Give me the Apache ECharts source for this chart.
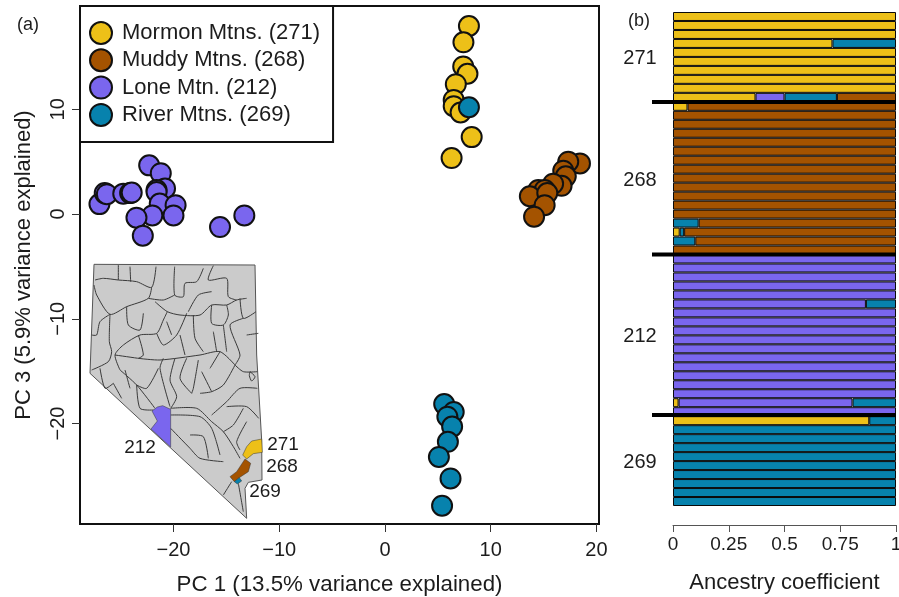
<!DOCTYPE html>
<html><head><meta charset="utf-8">
<style>html,body{margin:0;padding:0;background:#fff}#c{width:899px;height:597px}</style>
<script src="https://cdn.jsdelivr.net/npm/echarts@6/dist/echarts.min.js"></script>
</head><body><div id="c"></div>
<script>
// ---- data: PCA scores [PC1, PC3]
const mormon = [[7.94,17.96],[7.42,16.4],[7.4,14.1],[7.8,13.4],[6.7,12.4],[6.5,10.9],[6.5,10.3],[7.15,9.7],[8.2,7.35],[6.3,5.35]];
const muddy = [[18.44,4.84],[17.33,5.0],[16.86,4.14],[17.1,3.6],[16.7,2.7],[15.9,2.9],[14.5,2.3],[15.1,2.3],[13.7,1.7],[15.35,2.0],[15.1,0.85],[14.1,-0.25]];
const lone = [[-22.3,4.65],[-21.2,3.9],[-20.8,2.45],[-21.6,2.3],[-21.6,2.1],[-21.3,1.0],[-19.8,0.85],[-20,-0.13],[-22,-0.13],[-23.5,-0.35],[-22.9,-2.07],[-15.6,-1.24],[-13.3,-0.13],[-27,0.95],[-26.5,2],[-26.3,1.9],[-24.75,1.95],[-24.1,2],[-23.95,2.05]];
const river = [[7.94,10.2],[5.6,-18.15],[6.5,-18.9],[5.9,-19.35],[6.35,-20.3],[5.95,-21.75],[5.1,-23.2],[6.2,-25.25],[5.4,-27.85]];
const seriesNames = ['Mormon Mtns. (271)','Muddy Mtns. (268)','Lone Mtn. (212)','River Mtns. (269)'];
const pcTicksX = [-20,-10,0,10,20];
const pcTicksY = [-20,-10,0,10];
const ancestryTicks = [0,0.25,0.5,0.75,1];
// ---- ancestry rows, top to bottom
const ancYellow = [1,1,1,.715,1,1,1,1,1,.37, .065,0,0,0,0,0,0,0,0,0,0,0,0,0,.03,0,0, 0,0,0,0,0,0,0,0,0,0,0,0,0,0,0,0,.025,0, .88,0,0,0,0,0,0,0,0,0];
const ancPurple = [0,0,0,0,0,0,0,0,0,.13, 0,0,0,0,0,0,0,0,0,0,0,0,0,0,0,0,0, 1,1,1,1,1,.865,1,1,1,1,1,1,1,1,1,1,.78,1, 0,0,0,0,0,0,0,0,0,0];
const ancBlue   = [0,0,0,.285,0,0,0,0,0,.235, 0,0,0,0,0,0,0,0,0,0,0,0,0,.115,.02,.1,0, 0,0,0,0,0,.135,0,0,0,0,0,0,0,0,0,0,.195,0, .12,1,1,1,1,1,1,1,1,1];
const ancBrown  = [0,0,0,0,0,0,0,0,0,.265, .935,1,1,1,1,1,1,1,1,1,1,1,1,.885,.95,.9,1, 0,0,0,0,0,0,0,0,0,0,0,0,0,0,0,0,0,0, 0,0,0,0,0,0,0,0,0,0];
const groupLabels = ['271','268','212','269'];
const mapLabels = ['212','271','268','269'];

const C = {y:'#EDC018', br:'#A45300', p:'#7A66EE', b:'#0782AD', ink:'#1c1c1c'};
const FONT = '"Liberation Sans", Arial, sans-serif';

// ---- inset map geometry (traced in a 3x crop of the inset)
const mapOutline = [[42,28],[525,30],[530,300],[545,555],[546,675],[505,682],[495,700],[500,790],[30,355]];
const mapLines = [
 [[45,75],[70,70],[115,75],[170,80],[215,97],[228,35]],[[115,30],[115,75]],[[150,35],[152,80]],
 [[284,35],[284,120],[310,125],[315,85],[350,80],[370,40]],[[400,32],[385,75],[440,70],[445,125],[470,135]],
 [[215,97],[205,130],[140,155],[90,178],[50,120],[42,90]],[[90,178],[88,260],[95,290],[85,320],[35,345]],
 [[90,178],[60,200],[50,240],[35,240]],[[140,155],[145,210],[180,225],[190,175]],[[205,130],[250,135],[284,120]],
 [[225,140],[262,170],[300,180],[360,180],[395,150],[440,150],[470,135],[500,130]],[[325,170],[355,120],[395,110]],
 [[395,150],[395,205],[430,210],[445,180],[440,150]],[[480,130],[490,190],[528,170]],
 [[262,170],[250,195],[230,235],[180,240],[130,270],[105,300],[120,345]],[[230,235],[250,270],[290,240],[320,175]],
 [[490,190],[450,210],[480,300],[465,330]],[[465,330],[490,350],[532,350]],
 [[250,310],[240,340],[270,455]],[[285,310],[270,375],[290,425],[272,460]],[[320,310],[300,370],[335,415]],
 [[355,315],[340,400],[335,415]],[[175,310],[240,315],[360,300],[420,290],[465,330]],
 [[465,330],[430,390],[395,410],[360,415]],[[120,345],[170,390],[225,460]],[[100,385],[125,430]],
 [[170,390],[180,460],[220,465]],[[272,460],[350,460],[395,500],[430,530],[460,575],[480,610]],
 [[272,480],[360,485],[395,520],[420,600]],[[272,520],[330,580],[360,610],[430,620]],
 [[330,540],[370,545],[385,610]],[[440,455],[500,455],[536,490]],[[395,480],[440,440],[480,400],[532,400]],
 [[430,530],[460,510],[490,460]],[[480,585],[470,560],[500,500]],[[510,350],[525,365],[515,378],[508,362],[510,350]],
 [[455,680],[430,720]],[[475,685],[490,770]],[[400,230],[410,290]],[[500,240],[535,235]],[[260,200],[275,240]],
 [[175,240],[190,300],[175,310]],[[300,240],[315,300]],[[340,180],[345,250],[370,290]],[[430,210],[440,290]],[[105,300],[175,310]],
 [[60,340],[75,400],[100,385]],[[135,345],[150,400]],[[235,340],[200,400],[170,390]],[[390,340],[420,290]],[[365,350],[395,410]]
];
const mapPatches = [
 [C.p,[[216,468],[232,456],[248,452],[272,463],[272,576],[213,522],[232,498]]],
 [C.y,[[488,600],[500,575],[515,558],[545,552],[547,592],[520,596],[500,612]]],
 [C.br,[[450,665],[470,650],[495,612],[512,625],[505,650],[475,670],[463,680]]],
 [C.b,[[463,680],[478,668],[485,678],[472,687]]]
];
const toPx = pts => pts.map(p => [80 + p[0]/3, 255 + p[1]/3]);

const graphics = [];
graphics.push({type:'polygon',z:3,shape:{points:toPx(mapOutline)},style:{fill:'#CBCBCB',stroke:'#555',lineWidth:1}});
mapLines.forEach(l => graphics.push({type:'polyline',z:3,shape:{points:toPx(l),smooth:0.25},style:{fill:null,stroke:'#3a3a3a',lineWidth:1}}));
mapPatches.forEach(m => graphics.push({type:'polygon',z:4,shape:{points:toPx(m[1])},style:{fill:m[0],stroke:'#333',lineWidth:0.5}}));
const text = (t,x,y,s) => graphics.push({type:'text',z:6,x,y,style:{text:t,font:s+'px '+FONT,fill:C.ink,textAlign:'center',textVerticalAlign:'middle'}});
text('(a)',28,25,18); text('(b)',639,21,18);
[58,180,336,462].forEach((y,i)=>text(groupLabels[i],640,y,20));
[[140,448],[283,445],[282,467],[265,492]].forEach((p,i)=>text(mapLabels[i],p[0],p[1],19));
[102,254.5,415].forEach(y=>graphics.push({type:'line',z:6,shape:{x1:652,y1:y,x2:896,y2:y},style:{stroke:'#000',lineWidth:4}}));

const scatter = (name,data,color)=>({name,type:'scatter',xAxisIndex:0,yAxisIndex:0,data,symbolSize:20,
  itemStyle:{color,borderColor:'#111',borderWidth:2,opacity:1},emphasis:{disabled:true}});
const bar = (data,color)=>({type:'bar',xAxisIndex:1,yAxisIndex:1,stack:'anc',barWidth:'100%',
  data:data.map(v=>v===0?null:v),itemStyle:{color,borderColor:'#0a0a0a',borderWidth:1},emphasis:{disabled:true}});
const minus = v => String(v).replace('-','\u2212');

const chart = echarts.init(document.getElementById('c'),null,{renderer:'canvas'});
chart.setOption({
  animation:false, backgroundColor:'#fff', textStyle:{fontFamily:FONT},
  grid:[{left:80,top:6,width:519,height:518,show:true,borderColor:'#111',borderWidth:2,backgroundColor:'#fff',outerBoundsMode:'none'},
        {left:673,top:12,width:223,height:494,outerBoundsMode:'none'}],
  legend:{left:80,top:6,orient:'vertical',data:seriesNames,icon:'circle',itemWidth:22,itemHeight:22,itemGap:3.3,
    padding:[15,13,15,9],backgroundColor:'#fff',borderColor:'#111',borderWidth:2,borderRadius:0,selectedMode:false,
    textStyle:{fontSize:22,lineHeight:22,color:C.ink,fontFamily:FONT,padding:[0,0,0,5]}},
  xAxis:[
   {gridIndex:0,type:'value',min:-28.84,max:20.24,splitLine:{show:false},
    axisLine:{show:false,onZero:false},axisTick:{show:true,length:8,customValues:pcTicksX,lineStyle:{color:'#333',width:1}},
    axisLabel:{customValues:pcTicksX,formatter:minus,fontSize:20,color:C.ink,margin:16},
    name:'PC 1 (13.5% variance explained)',nameLocation:'middle',nameGap:50,nameTextStyle:{fontSize:22.3,color:C.ink}},
   {gridIndex:1,type:'value',min:0,max:1,splitLine:{show:false},offset:19,
    axisLine:{show:true,onZero:false,lineStyle:{color:'#555',width:1}},axisTick:{show:true,length:7,customValues:ancestryTicks,lineStyle:{color:'#555',width:1}},
    axisLabel:{customValues:ancestryTicks,fontSize:19,color:C.ink,margin:10,hideOverlap:false},
    name:'Ancestry coefficient',nameLocation:'middle',nameGap:47,nameTextStyle:{fontSize:22,color:C.ink}}],
  yAxis:[
   {gridIndex:0,type:'value',min:-29.6,max:19.87,splitLine:{show:false},
    axisLine:{show:false,onZero:false},axisTick:{show:true,length:8,customValues:pcTicksY,lineStyle:{color:'#333',width:1}},
    axisLabel:{customValues:pcTicksY,formatter:minus,rotate:90,fontSize:20,color:C.ink,margin:12},
    name:'PC 3 (5.9% variance explained)',nameLocation:'middle',nameGap:45,nameRotate:90,nameTextStyle:{fontSize:22,color:C.ink}},
   {gridIndex:1,type:'category',inverse:true,data:ancYellow.map((_,i)=>i+1),show:false}],
  series:[scatter(seriesNames[0],mormon,C.y),scatter(seriesNames[1],muddy,C.br),scatter(seriesNames[2],lone,C.p),scatter(seriesNames[3],river,C.b),
    bar(ancYellow,C.y),bar(ancPurple,C.p),bar(ancBlue,C.b),bar(ancBrown,C.br)],
  graphic:graphics
});
</script></body></html>
